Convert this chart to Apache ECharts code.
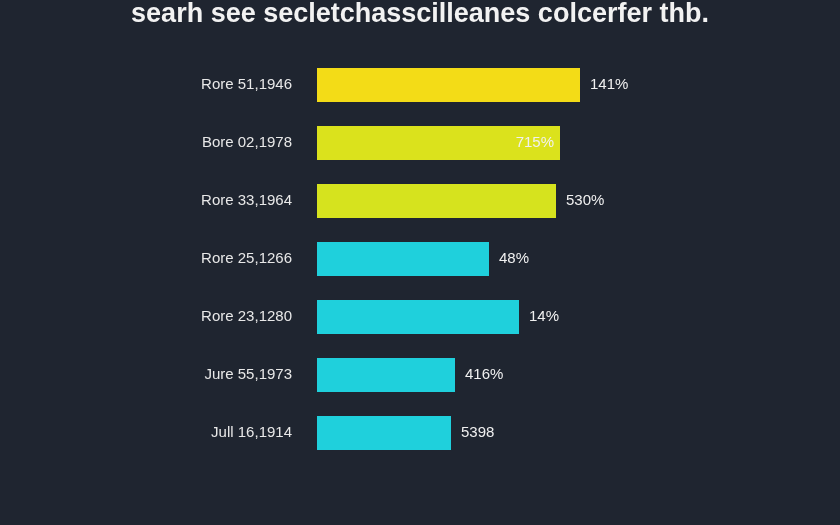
<!DOCTYPE html>
<html>
<head>
<meta charset="utf-8">
<script src="https://cdn.jsdelivr.net/npm/echarts@6/dist/echarts.min.js"></script>
<style>
html, body { margin: 0; padding: 0; background: #1f2530; }
#chart { width: 840px; height: 525px; }
</style>
</head>
<body>
<div id="chart"></div>
<script>
// 数据
var categories = ['Rore 51,1946', 'Bore 02,1978', 'Rore 33,1964', 'Rore 25,1266', 'Rore 23,1280', 'Jure 55,1973', 'Jull 16,1914'];
var values = [263, 243, 239, 172, 202, 138, 134];
var valueLabels = ['141%', '715%', '530%', '48%', '14%', '416%', '5398'];
var barColors = ['#f3dc17', '#dbe21c', '#d6e31e', '#1fd0dc', '#1fd0dc', '#1fd0dc', '#1fd0dc'];

var chart = echarts.init(document.getElementById('chart'));

var option = {
    backgroundColor: '#1f2530',
    title: {
        text: 'searh see secletchasscilleanes colcerfer thb.',
        left: 'center',
        top: -4,
        textStyle: { color: '#f2f2f2', fontSize: 27, fontWeight: 'bold', fontFamily: 'Liberation Sans' }
    },
    grid: { left: 317, width: 300, top: 56, height: 406 },
    xAxis: { type: 'value', min: 0, max: 300, show: false },
    yAxis: {
        type: 'category',
        data: categories,
        inverse: true,
        axisLine: { show: false },
        axisTick: { show: false },
        axisLabel: { color: '#e8e8e8', fontSize: 15, margin: 25, fontFamily: 'Liberation Sans' }
    },
    series: [{
        type: 'bar',
        barWidth: 34,
        data: values.map(function(v, i) {
            return {
                value: v,
                itemStyle: { color: barColors[i] },
                label: i === 1 ? { position: 'insideRight', distance: 6 } : {}
            };
        }),
        label: {
            show: true,
            position: 'right',
            distance: 10,
            color: '#f0f0f0',
            fontSize: 15,
            fontFamily: 'Liberation Sans',
            formatter: function(p) { return valueLabels[p.dataIndex]; }
        }
    }]
};

chart.setOption(option);
</script>
</body>
</html>
